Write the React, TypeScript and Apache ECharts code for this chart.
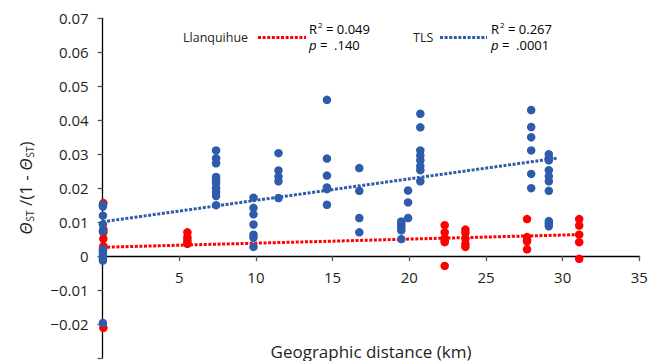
import React, { useEffect, useRef } from "react";
import * as echarts from "echarts";

// ---- Data ----
const redDistances = [0.05, 5.53, 22.31, 23.66, 27.68, 31.08];
const redValues = [
  [0.0156, 0.0078, 0.007, 0.0051, 0.0029, 0.0024, -0.0211],
  [0.007, 0.0055, 0.0047, 0.004, 0.0036],
  [0.0091, 0.007, 0.0052, 0.0045, 0.0041, -0.0029],
  [0.0078, 0.0068, 0.0051, 0.0036, 0.0027],
  [0.0109, 0.0056, 0.0048, 0.0043, 0.002],
  [0.0109, 0.009, 0.0063, 0.0041, -0.0008],
];

const blueDistances = [0.02, 7.4, 9.84, 11.47, 14.63, 16.74, 19.48, 19.92, 20.72, 27.95, 29.1];
const blueValues = [
  [0.0151, 0.0146, 0.0119, 0.0093, 0.0073, 0.0021, 0.0014, 0.0004, -0.0005, -0.0013, -0.0197],
  [0.0311, 0.0288, 0.0273, 0.0233, 0.0224, 0.0214, 0.02, 0.0189, 0.0177, 0.015],
  [0.0172, 0.0142, 0.0123, 0.0093, 0.0063, 0.0054, 0.0027],
  [0.0303, 0.0252, 0.0234, 0.022, 0.0171],
  [0.046, 0.0287, 0.0237, 0.0202, 0.0197, 0.0151],
  [0.0259, 0.0192, 0.0112, 0.007],
  [0.0102, 0.0094, 0.0086, 0.0076, 0.005],
  [0.0193, 0.0158, 0.0112],
  [0.0419, 0.0379, 0.0311, 0.0296, 0.0282, 0.0265, 0.0253, 0.022],
  [0.043, 0.038, 0.035, 0.0311, 0.0242, 0.02],
  [0.03, 0.0289, 0.0282, 0.0253, 0.0235, 0.022, 0.0192, 0.0103, 0.0096, 0.0088],
];

// Regression lines: [x, y] end points
const redTrend = [
  [0, 0.0026],
  [30.8, 0.0063],
];
const blueTrend = [
  [0, 0.0101],
  [29.6, 0.0288],
];

const xTicks = [0, 5, 10, 15, 20, 25, 30, 35];
const yTicks = [-0.03, -0.02, -0.01, 0, 0.01, 0.02, 0.03, 0.04, 0.05, 0.06, 0.07];

const legendNames = ["Llanquihue", "TLS"];
const legendR2 = ["0.049", "0.267"];
const legendP = [".140", ".0001"];

const RED = "#FF0000";
const BLUE = "#2E5BAA";
const TEXT = "#231F20";
const FONT = "'Open Sans', 'Noto Sans', sans-serif";

const GRID_TOP = 18.3;
const GRID_BOTTOM = 3;
const CHART_H = 361;

function flatten(dist: number[], vals: number[][]) {
  const out: number[][] = [];
  dist.forEach((d, i) => vals[i].forEach((v) => out.push([d, v])));
  return out;
}

export default function App() {
  const ref = useRef<HTMLDivElement>(null);

  useEffect(() => {
    if (!ref.current) return;
    const chart = echarts.init(ref.current, undefined, { renderer: "svg" });

    // place the x axis where y = 0 (the axis crosses at zero)
    const yMin = yTicks[0];
    const yMax = yTicks[yTicks.length - 1];
    const plotH = CHART_H - GRID_TOP - GRID_BOTTOM;
    const zeroOffset = -((0 - yMin) / (yMax - yMin)) * plotH;

    const supRich = {
      r: { fontSize: 13, fontFamily: FONT, color: TEXT },
      sup: { fontSize: 8, fontFamily: FONT, color: TEXT, padding: [0, 0, 8, 1] },
      n: { fontSize: 13, fontFamily: FONT, color: TEXT },
      p: { fontSize: 13, fontFamily: FONT, color: TEXT, fontStyle: "italic" },
    };

    const option: any = {
      animation: false,
      grid: { left: 102.6, right: 20.7, top: GRID_TOP, bottom: GRID_BOTTOM, containLabel: false },
      xAxis: {
        type: "value",
        min: xTicks[0],
        max: xTicks[xTicks.length - 1],
        interval: 5,
        position: "bottom",
        offset: zeroOffset,
        axisLine: { onZero: false, lineStyle: { color: "#000", width: 1.3 } },
        axisTick: { show: true, inside: false, length: 5, lineStyle: { color: "#555", width: 1.3 } },
        splitLine: { show: false },
        axisLabel: {
          margin: 13,
          fontSize: 15,
          fontFamily: FONT,
          color: TEXT,
          formatter: (v: number) => (v === 0 ? "" : String(v)),
        },
      },
      yAxis: {
        type: "value",
        min: yMin,
        max: yMax,
        interval: 0.01,
        axisLine: { show: true, onZero: false, lineStyle: { color: "#000", width: 1.3 } },
        axisTick: { show: true, inside: false, length: 5, lineStyle: { color: "#555", width: 1.3 } },
        splitLine: { show: false },
        axisLabel: {
          margin: 14,
          fontSize: 15,
          fontFamily: FONT,
          color: TEXT,
          formatter: (v: number) => {
            const k = Math.round(v * 100);
            if (k === -3) return "";
            if (k === 0) return "0";
            if (k < 0) return "\u2212" + (Math.abs(k) / 100).toFixed(2);
            return (k / 100).toFixed(2);
          },
        },
        name: "{t|\u0398}{s|ST}{n| /(1 - }{t|\u0398}{s|ST}{n|)}",
        nameLocation: "middle",
        nameGap: 68,
        nameTextStyle: {
          fontSize: 17,
          fontFamily: FONT,
          color: TEXT,
          rich: {
            t: { fontSize: 17, fontFamily: FONT, color: TEXT, fontStyle: "italic" },
            s: { fontSize: 10, fontFamily: FONT, color: TEXT, padding: [9, 0, 0, 1] },
            n: { fontSize: 17, fontFamily: FONT, color: TEXT },
          },
        },
      },
      series: [
        {
          type: "line",
          data: redTrend,
          showSymbol: false,
          symbol: "none",
          z: 1,
          lineStyle: { color: RED, width: 3, type: [3, 1.6] },
        },
        {
          type: "line",
          data: blueTrend,
          showSymbol: false,
          symbol: "none",
          z: 1,
          lineStyle: { color: BLUE, width: 3, type: [3, 1.6] },
        },
        {
          type: "scatter",
          name: legendNames[0],
          data: flatten(redDistances, redValues),
          symbolSize: 8.5,
          z: 2,
          itemStyle: { color: RED, opacity: 1 },
        },
        {
          type: "scatter",
          name: legendNames[1],
          data: flatten(blueDistances, blueValues),
          symbolSize: 8.5,
          z: 3,
          itemStyle: { color: BLUE, opacity: 1 },
        },
      ],
      graphic: [
        {
          type: "text",
          x: 183,
          y: 37.5,
          style: {
            text: legendNames[0],
            fontSize: 12.5,
            fontFamily: FONT,
            fill: TEXT,
            textAlign: "left",
            textVerticalAlign: "middle",
          },
        },
        {
          type: "line",
          shape: { x1: 258, y1: 37.5, x2: 306, y2: 37.5 },
          style: { stroke: RED, lineWidth: 3, lineDash: [3, 1.6] },
        },
        {
          type: "text",
          x: 309,
          y: 28.5,
          style: {
            text: "{r|R}{sup|2}{n| = " + legendR2[0] + "}",
            rich: supRich,
            textAlign: "left",
            textVerticalAlign: "middle",
          },
        },
        {
          type: "text",
          x: 309,
          y: 45,
          style: {
            text: "{p|p}{n| =  " + legendP[0] + "}",
            rich: supRich,
            textAlign: "left",
            textVerticalAlign: "middle",
          },
        },
        {
          type: "text",
          x: 413,
          y: 37.5,
          style: {
            text: legendNames[1],
            fontSize: 12.5,
            fontFamily: FONT,
            fill: TEXT,
            textAlign: "left",
            textVerticalAlign: "middle",
          },
        },
        {
          type: "line",
          shape: { x1: 440, y1: 37.5, x2: 487, y2: 37.5 },
          style: { stroke: BLUE, lineWidth: 3, lineDash: [3, 1.6] },
        },
        {
          type: "text",
          x: 491,
          y: 28.5,
          style: {
            text: "{r|R}{sup|2}{n| = " + legendR2[1] + "}",
            rich: supRich,
            textAlign: "left",
            textVerticalAlign: "middle",
          },
        },
        {
          type: "text",
          x: 491,
          y: 45,
          style: {
            text: "{p|p}{n| =  " + legendP[1] + "}",
            rich: supRich,
            textAlign: "left",
            textVerticalAlign: "middle",
          },
        },
        {
          type: "text",
          x: 371,
          y: 351,
          style: {
            text: "Geographic distance (km)",
            fontSize: 17,
            fontFamily: FONT,
            fill: TEXT,
            textAlign: "center",
            textVerticalAlign: "middle",
          },
        },
      ],
    };

    chart.setOption(option);
    return () => chart.dispose();
  }, []);

  return (
    <div
      ref={ref}
      style={{ position: "fixed", left: 0, top: 0, width: 660, height: 361, background: "#fff" }}
    />
  );
}
